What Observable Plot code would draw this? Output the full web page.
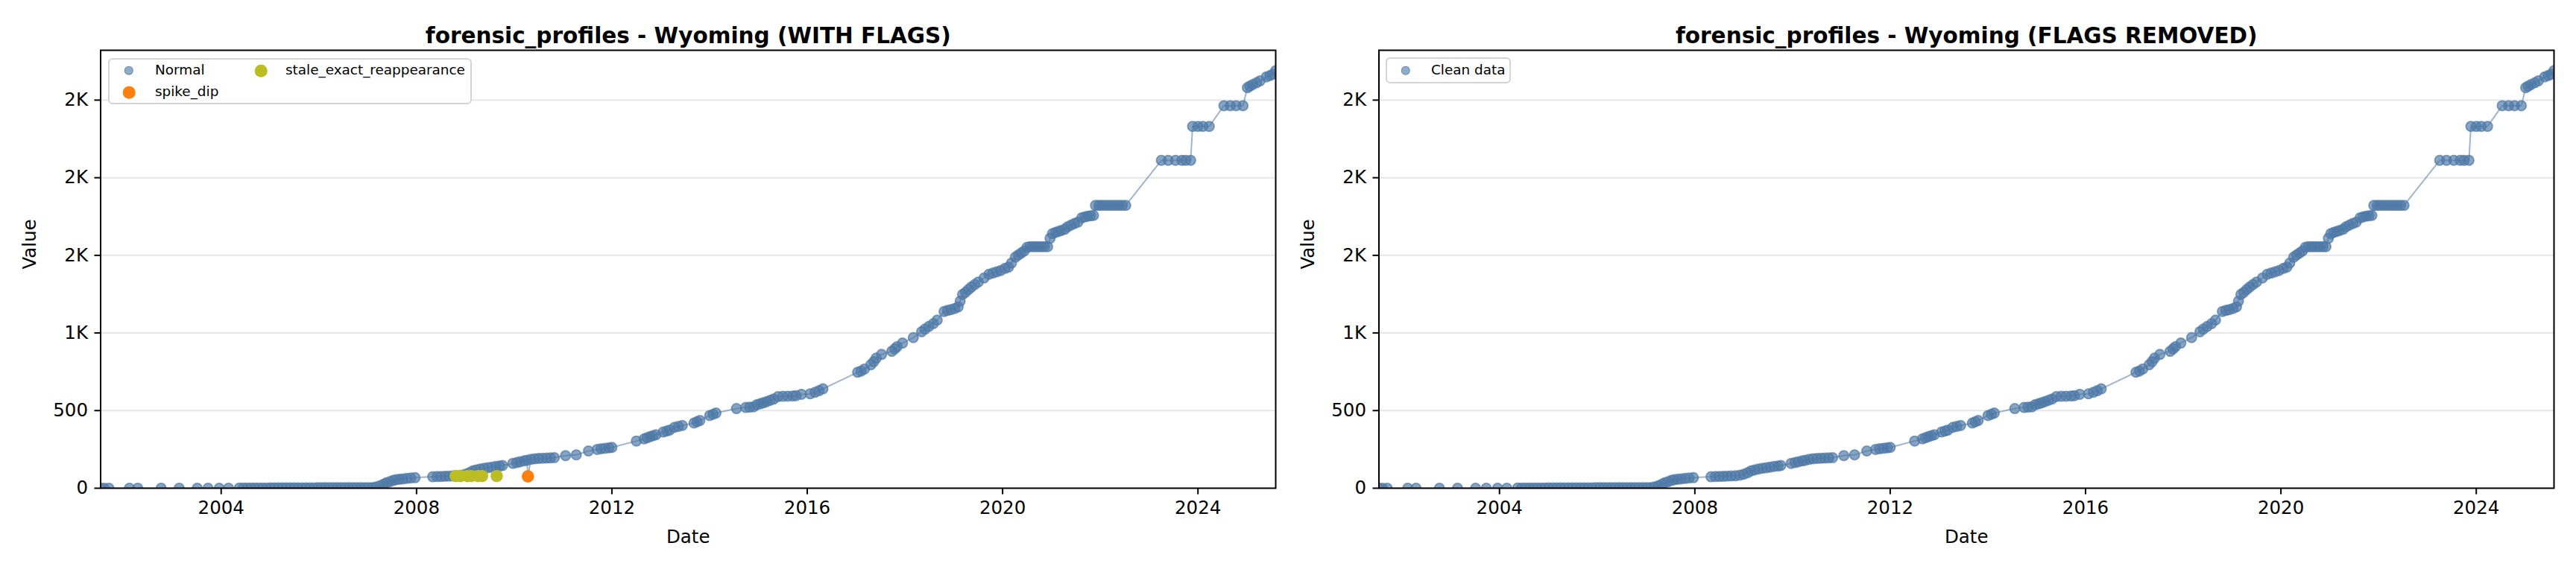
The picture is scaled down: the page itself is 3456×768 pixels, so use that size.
<!DOCTYPE html>
<html><head><meta charset="utf-8">
<script src="https://cdn.jsdelivr.net/npm/d3@7"></script>
<script src="https://cdn.jsdelivr.net/npm/@observablehq/plot@0.6"></script>
<style>
body{margin:0;background:#fff;font-family:"DejaVu Sans",sans-serif;}
#wrap{position:relative;width:3456px;height:768px;overflow:hidden;}
.panel{position:absolute;top:0;width:1728px;height:768px;}
.legend{position:absolute;background:rgba(255,255,255,0.8);border:2px solid #d4d4d4;border-radius:6px;box-sizing:border-box;}
.item{position:absolute;font-size:18.4px;line-height:1;white-space:nowrap;transform:translateY(-52%);color:#000;}
.mk{position:absolute;border-radius:50%;box-sizing:border-box;transform:translate(-50%,-50%);}
</style></head><body><div id="wrap"></div>
<script>
// ---- data (decimal years) ----
const normalYears = [
 2001.53,2001.60,2001.70,2002.12,2002.29,2002.77,2003.14,2003.51,2003.73,2003.96,2004.15,
 2004.37,2004.45,2004.53,2004.61,2004.69,2004.77,2004.85,2004.93,2005.01,2005.09,2005.17,2005.25,2005.33,2005.41,2005.49,2005.57,2005.65,2005.73,2005.81,2005.89,2005.97,2006.05,2006.13,2006.21,2006.29,2006.37,2006.45,2006.53,2006.61,2006.69,2006.77,2006.85,2006.93,2007.01,2007.09,
 2007.17,2007.25,2007.32,2007.38,2007.45,2007.52,2007.58,2007.65,2007.72,2007.80,2007.88,2007.97,
 2008.33,2008.42,2008.50,2008.58,2008.66,2008.74,2008.83,2008.92,2009.00,2009.08,2009.15,2009.22,2009.30,2009.38,2009.46,2009.54,2009.62,2009.70,2009.76,
 2009.97,2010.05,2010.12,2010.20,2010.26,2010.34,2010.42,2010.50,2010.58,2010.66,2010.74,2010.82,2011.05,2011.27,2011.52,2011.70,2011.78,2011.86,2011.94,2012.00,
 2012.50,2012.66,2012.72,2012.78,2012.84,2012.90,2013.05,2013.12,2013.18,2013.28,2013.36,2013.44,2013.68,2013.74,2013.80,2014.00,2014.07,2014.13,
 2014.55,2014.74,2014.82,2014.90,2014.97,2015.04,2015.10,2015.17,2015.24,2015.31,2015.40,2015.50,2015.60,2015.70,2015.77,2015.88,2016.06,2016.16,2016.24,2016.32,
 2017.03,2017.10,2017.17,2017.30,2017.36,2017.41,2017.52,2017.73,2017.79,2017.84,2017.95,2018.17,2018.34,2018.41,2018.49,2018.58,2018.66,
 2018.80,2018.87,2018.94,2019.02,2019.09,2019.13,2019.18,2019.24,2019.30,2019.36,2019.43,2019.50,2019.62,2019.72,2019.80,2019.88,2019.96,2020.05,2020.12,2020.18,2020.26,2020.32,2020.38,2020.44,2020.50,
 2020.56,2020.62,2020.68,2020.74,2020.80,2020.86,2020.92,
 2020.97,2021.02,2021.08,2021.14,2021.20,2021.27,2021.33,2021.40,2021.47,2021.54,2021.62,2021.68,2021.74,2021.80,2021.86,
 2021.90,2021.97,2022.03,2022.10,2022.17,2022.24,2022.31,2022.38,2022.45,2022.52,
 2023.25,2023.39,2023.54,2023.67,2023.75,2023.85,
 2023.89,2024.00,2024.10,2024.23,
 2024.53,2024.66,2024.78,2024.92,
 2025.01,2025.06,2025.12,2025.20,2025.27,2025.40,2025.47,2025.53,2025.59
];
const normalValues = [
 0,0,0,0,0,0,0,0,0,0,0,
 1,1,1,1,1,1,1,1,2,2,2,2,2,2,2,2,2,2,2,2,3,3,3,3,3,3,3,3,3,3,3,3,3,4,4,
 8,15,25,35,42,50,55,58,60,63,66,68,
 74,75,76,77,78,79,80,84,90,100,112,118,124,128,132,136,140,143,146,
 160,165,170,176,180,186,190,192,193,194,195,197,210,215,240,250,254,257,260,263,
 304,318,325,332,338,344,362,368,374,392,398,404,420,428,436,468,476,484,
 513,520,522,524,538,544,550,558,566,574,590,592,593,594,596,605,608,618,628,640,
 747,755,768,795,815,838,862,882,898,912,935,970,1008,1025,1042,1060,1083,
 1138,1145,1150,1158,1168,1205,1248,1262,1280,1296,1312,1328,1354,1378,1386,1394,1402,1416,1424,1450,1488,1502,1515,1528,1552,
 1556,1556,1556,1556,1556,1556,1556,
 1610,1640,1648,1654,1660,1668,1684,1695,1705,1714,1742,1748,1752,1755,1757,
 1822,1822,1822,1822,1822,1822,1822,1822,1822,1822,
 2112,2112,2112,2112,2112,2112,
 2331,2331,2331,2331,
 2464,2464,2464,2464,
 2580,2590,2600,2612,2624,2650,2658,2666,2690
];
const staleYears  = [2008.80,2008.90,2009.04,2009.12,2009.26,2009.34,2009.64];
const staleValues = [78,78,78,78,78,78,78];
const spikeYears  = [2010.28];
const spikeValues = [76];

const yTicks = [0,500,1000,1500,2000,2500];
const yTickLabels = ["0","500","1K","2K","2K","2K"];
const xTickYears = [2004,2008,2012,2016,2020,2024];
const xDomainYears = [2001.53,2025.59];
const yMax = 2821;

const BLUE = "#4e79a7", ORANGE = "#ff7f0e", OLIVE = "#bcbd22";

function toDate(y){
  const yr = Math.floor(y);
  const s = Date.UTC(yr,0,1), e = Date.UTC(yr+1,0,1);
  return new Date(s + (y-yr)*(e-s));
}
const mk = (ys, vs, flag) => ys.map((y,i)=>({date:toDate(y), value:vs[i], flag}));
const normal = mk(normalYears, normalValues, "Normal");
const stale = mk(staleYears, staleValues, "stale_exact_reappearance");
const spike = mk(spikeYears, spikeValues, "spike_dip");
const all = [...normal, ...stale, ...spike].sort((a,b)=>a.date-b.date);

function chart(title, lineData, flagged){
  const marks = [
    Plot.gridY(yTicks.slice(1), {stroke:"#e6e6e6", strokeOpacity:1, strokeWidth:2}),
    Plot.line(lineData, {x:"date", y:"value", stroke:BLUE, strokeOpacity:0.55, strokeWidth:2, clip:true}),
    Plot.dot(normal, {x:"date", y:"value", r:6.6, fill:BLUE, fillOpacity:0.68, stroke:BLUE, strokeOpacity:0.7, strokeWidth:1.8, clip:true})
  ];
  if (flagged) {
    marks.push(Plot.dot(spike, {x:"date", y:"value", r:8.3, fill:ORANGE, clip:true}));
    marks.push(Plot.dot(stale, {x:"date", y:"value", r:8.3, fill:OLIVE, clip:true}));
  }
  marks.push(
    Plot.frame({stroke:"black", strokeWidth:2}),
    Plot.axisX({ticks:xTickYears.map(y=>toDate(y)), tickFormat:d3.utcFormat("%Y"), tickSize:8.6, tickPadding:8.6, fontSize:24.5, strokeWidth:2, label:null}),
    Plot.axisY({ticks:yTicks, tickFormat:d=>yTickLabels[yTicks.indexOf(d)], tickSize:8, tickPadding:9, fontSize:24.5, strokeWidth:2, label:null}),
    Plot.text([title], {text:d=>d, frameAnchor:"top", dy:-30, fontSize:29.5, fontWeight:"bold"}),
    Plot.text(["Date"], {text:d=>d, frameAnchor:"bottom", dy:73, fontSize:24.5}),
    Plot.text(["Value"], {text:d=>d, frameAnchor:"left", dx:-94.5, rotate:-90, fontSize:24.5})
  );
  return Plot.plot({
    width:1728, height:768,
    marginLeft:134.5, marginRight:17, marginTop:67, marginBottom:113,
    style:{fontFamily:"DejaVu Sans", background:"white", color:"black", overflow:"visible"},
    x:{type:"utc", domain:xDomainYears.map(toDate)},
    y:{domain:[0,yMax]},
    marks
  });
}

function legend(items, box){
  const lg = document.createElement("div");
  lg.className = "legend";
  Object.assign(lg.style, {left:box.left+"px", top:box.top+"px", width:box.w+"px", height:box.h+"px"});
  for (const it of items){
    const m = document.createElement("div");
    m.className = "mk";
    Object.assign(m.style, {left:it.mx+"px", top:it.my+"px", width:(it.r*2)+"px", height:(it.r*2)+"px", background:it.bg, border:it.border||"none"});
    lg.appendChild(m);
    const t = document.createElement("div");
    t.className = "item";
    t.textContent = it.label;
    Object.assign(t.style, {left:it.tx+"px", top:it.my+"px"});
    lg.appendChild(t);
  }
  return lg;
}

const wrap = document.getElementById("wrap");
const normalBg = "rgba(78,121,167,0.62)", normalBorder = "1.8px solid rgba(78,121,167,0.7)";

const p1 = document.createElement("div"); p1.className="panel"; p1.style.left="0px";
p1.appendChild(chart("forensic_profiles - Wyoming (WITH FLAGS)", all, true));
p1.appendChild(legend([
  {label:"Normal", mx:26, my:15, tx:61, r:6.2, bg:normalBg, border:normalBorder},
  {label:"spike_dip", mx:26, my:44, tx:61, r:8.3, bg:ORANGE},
  {label:"stale_exact_reappearance", mx:203, my:15, tx:236, r:8.3, bg:OLIVE}
], {left:145, top:78, w:488, h:62}));
wrap.appendChild(p1);

const p2 = document.createElement("div"); p2.className="panel"; p2.style.left="1714.5px";
p2.appendChild(chart("forensic_profiles - Wyoming (FLAGS REMOVED)", normal, false));
p2.appendChild(legend([
  {label:"Clean data", mx:25, my:16, tx:59, r:6.2, bg:normalBg, border:normalBorder}
], {left:144.5, top:77, w:168, h:35}));
wrap.appendChild(p2);
</script></body></html>
